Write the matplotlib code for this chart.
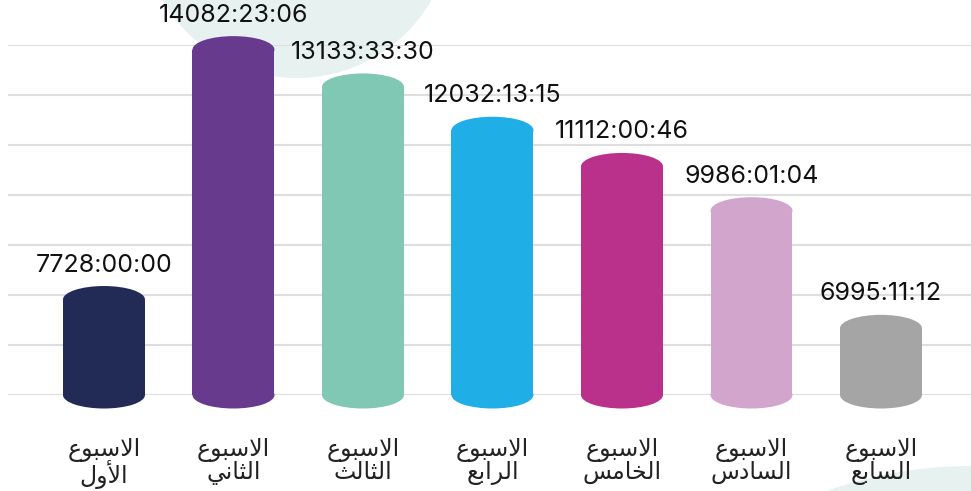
import numpy as np
import matplotlib
matplotlib.use("Agg")
import matplotlib.pyplot as plt
from matplotlib.patches import Rectangle, Ellipse, Circle

# ---------------- data ----------------
weeks = ["الاسبوع الأول", "الاسبوع الثاني", "الاسبوع الثالث", "الاسبوع الرابع",
         "الاسبوع الخامس", "الاسبوع السادس", "الاسبوع السابع"]
durations = ["7728:00:00", "14082:23:06", "13133:33:30", "12032:13:15",
             "11112:00:46", "9986:01:04", "6995:11:12"]
colors = ["#222B55", "#673A8E", "#80C7B4", "#1FAEE6", "#BA318C", "#D2A5CD", "#A5A5A5"]


def to_hours(s):
    h, m, sec = (int(p) for p in s.split(":"))
    return h + m / 60 + sec / 3600


hours = [to_hours(d) for d in durations]

# ---------------- simple Arabic shaping ----------------
FORMS = {
    '\u0627': ('\uFE8D', '\uFE8E', None, None),
    '\u0623': ('\uFE83', '\uFE84', None, None),
    '\u0628': ('\uFE8F', '\uFE90', '\uFE91', '\uFE92'),
    '\u062B': ('\uFE99', '\uFE9A', '\uFE9B', '\uFE9C'),
    '\u062E': ('\uFEA5', '\uFEA6', '\uFEA7', '\uFEA8'),
    '\u062F': ('\uFEA9', '\uFEAA', None, None),
    '\u0631': ('\uFEAD', '\uFEAE', None, None),
    '\u0633': ('\uFEB1', '\uFEB2', '\uFEB3', '\uFEB4'),
    '\u0639': ('\uFEC9', '\uFECA', '\uFECB', '\uFECC'),
    '\u0644': ('\uFEDD', '\uFEDE', '\uFEDF', '\uFEE0'),
    '\u0645': ('\uFEE1', '\uFEE2', '\uFEE3', '\uFEE4'),
    '\u0646': ('\uFEE5', '\uFEE6', '\uFEE7', '\uFEE8'),
    '\u0648': ('\uFEED', '\uFEEE', None, None),
    '\u064A': ('\uFEF1', '\uFEF2', '\uFEF3', '\uFEF4'),
    'LA': ('\uFEFB', '\uFEFC', None, None),
    'LAH': ('\uFEF7', '\uFEF8', None, None),
}


def shape_word(s):
    toks = []
    i = 0
    while i < len(s):
        if s[i] == '\u0644' and i + 1 < len(s) and s[i + 1] in '\u0627\u0623':
            toks.append('LA' if s[i + 1] == '\u0627' else 'LAH')
            i += 2
        else:
            toks.append(s[i])
            i += 1
    out = []
    n = len(toks)
    for j, t in enumerate(toks):
        f = FORMS.get(t)
        if f is None:
            out.append(t)
            continue
        prev_j = j > 0 and toks[j - 1] in FORMS and FORMS[toks[j - 1]][2] is not None
        next_j = f[2] is not None and j + 1 < n and toks[j + 1] in FORMS
        if prev_j and next_j:
            out.append(f[3])
        elif prev_j:
            out.append(f[1])
        elif next_j:
            out.append(f[2])
        else:
            out.append(f[0])
    return "".join(reversed(out))


def shape_label(s):
    return "\n".join(shape_word(w) for w in s.split(" "))


# ---------------- figure ----------------
W, H, DPI = 971, 491, 100
fig = plt.figure(figsize=(W / DPI, H / DPI), dpi=DPI)
fig.patch.set_facecolor("white")

# faint background decorations
fig.add_artist(Circle((2.97, (H + 77) / DPI), 1.55, transform=fig.dpi_scale_trans,
                      facecolor="#E7F2F0", edgecolor="none", zorder=0))
fig.add_artist(Circle((9.70, -4.00), 4.25, transform=fig.dpi_scale_trans,
                      facecolor="#E7F2F0", edgecolor="none", zorder=0))

ax_left, ax_right = 8 / W, 1.0
ax_bottom, ax_top = (H - 395) / H, (H - 45) / H
ax = fig.add_axes([ax_left, ax_bottom, ax_right - ax_left, ax_top - ax_bottom])
ax.set_facecolor("none")

ymin, ymax = 5300, 14200
ax.set_ylim(ymin, ymax)
ax.set_xlim(-0.741, 6.695)
ax.set_yticks(np.linspace(ymin, ymax, 8))
ax.grid(axis="y", color="#DEDEDE", linewidth=1.5)
ax.set_axisbelow(True)
for sp in ax.spines.values():
    sp.set_visible(False)
ax.tick_params(axis="y", left=False, labelleft=False)

x = np.arange(len(weeks))
bw = 0.633
px_per_unit = 350 / (ymax - ymin)
eh = 27 / px_per_unit  # ellipse height in data units

for xi, v, c in zip(x, hours, colors):
    ax.add_patch(Rectangle((xi - bw / 2, ymin), bw, v - ymin, facecolor=c,
                           edgecolor="none", clip_on=False, zorder=3))
    ax.add_patch(Ellipse((xi, ymin), bw, eh, facecolor=c, edgecolor="none",
                         clip_on=False, zorder=3))
    ax.add_patch(Ellipse((xi, v), bw, eh, facecolor=c, edgecolor="none",
                         clip_on=False, zorder=3))

for xi, v, lab in zip(x, hours, durations):
    ax.annotate(lab, (xi, v), xytext=(0, 23), textcoords="offset pixels",
                ha="center", va="bottom", fontsize=18, family="Inter",
                color="#111111", annotation_clip=False, zorder=4)

ax.set_xticks(x)
ax.set_xticklabels([shape_label(w) for w in weeks], family="DejaVu Sans",
                   fontsize=17, color="#222222", linespacing=0.9)
ax.tick_params(axis="x", length=0, pad=31)

fig.savefig("out.png", dpi=DPI)
